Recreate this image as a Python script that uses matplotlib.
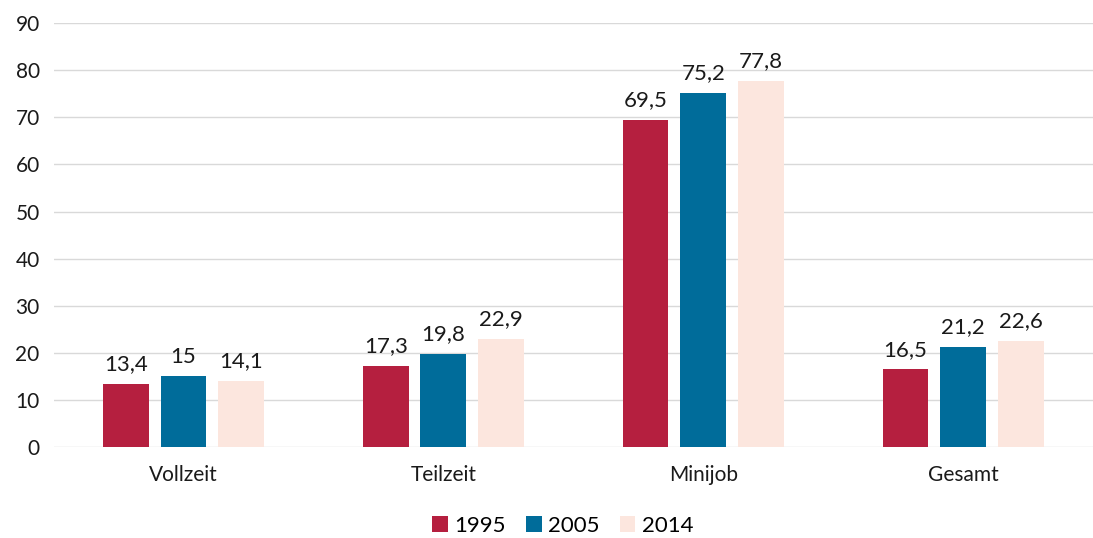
import matplotlib
matplotlib.use("Agg")
from matplotlib import pyplot as plt
import numpy as np

categories = ["Vollzeit", "Teilzeit", "Minijob", "Gesamt"]
years = ["1995", "2005", "2014"]
values_1995 = [13.4, 17.3, 69.5, 16.5]
values_2005 = [15.0, 19.8, 75.2, 21.2]
values_2014 = [14.1, 22.9, 77.8, 22.6]
colors = ["#B51F3F", "#006C9A", "#FCE6DE"]

plt.rcParams["font.family"] = ["Lato", "DejaVu Sans"]

fig = plt.figure(figsize=(10.93, 5.38), dpi=100)
ax = fig.add_axes([0.049, 0.169, 0.951, 0.788])

x = np.arange(len(categories))
width = 0.176
offset = 0.222
series = [values_1995, values_2005, values_2014]
for i, (vals, year, col) in enumerate(zip(series, years, colors)):
    bars = ax.bar(x + (i - 1) * offset, vals, width, color=col, label=year, zorder=3)
    labels = [f"{v:g}".replace(".", ",") for v in vals]
    ax.bar_label(bars, labels=labels, padding=7, fontsize=16, color="#1a1a1a")

ax.set_xlim(-0.5, len(categories) - 0.5)
ax.set_ylim(0, 90)
ax.set_yticks(range(0, 91, 10))
ax.set_xticks(x)
ax.set_xticklabels(categories)
ax.tick_params(axis="both", length=0, labelsize=15, colors="#1a1a1a")
ax.tick_params(axis="x", pad=13)
ax.tick_params(axis="y", pad=10)
ax.grid(axis="y", color="#D9D9D9", linewidth=1, zorder=0)
for s in ax.spines.values():
    s.set_visible(False)

ax.legend(loc="upper center", bbox_to_anchor=(0.49, -0.115), ncol=3, frameon=False,
          fontsize=16, handlelength=0.7, handleheight=0.7, handletextpad=0.3,
          columnspacing=0.9)

plt.savefig("out.png", dpi=100)
